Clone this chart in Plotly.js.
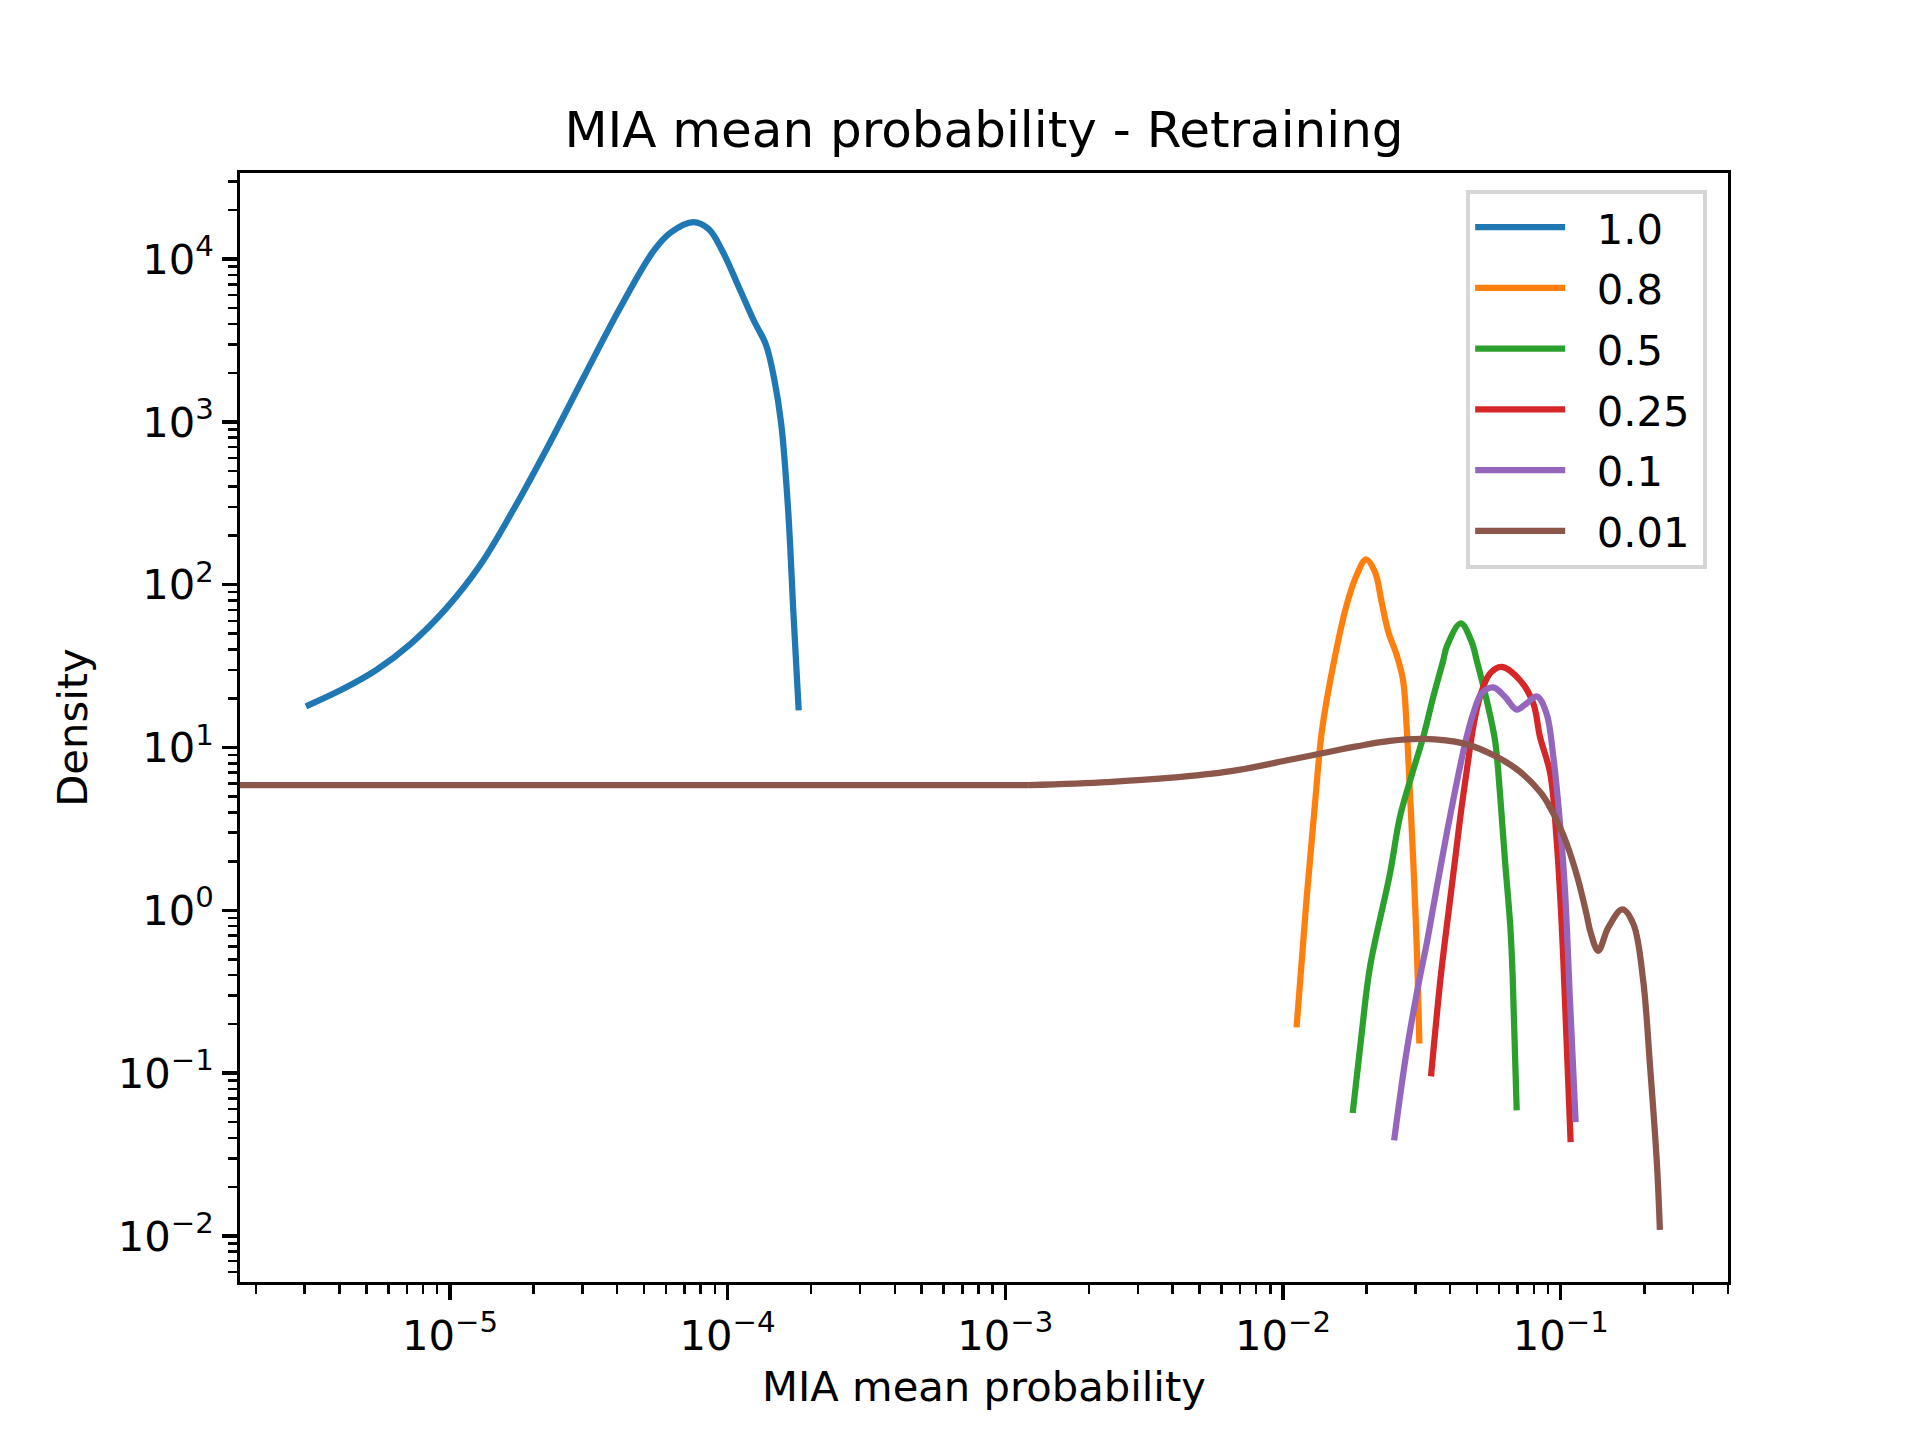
<!DOCTYPE html>
<html>
<head>
<meta charset="utf-8">
<script src="https://cdn.plot.ly/plotly-3.0.1.min.js"></script>
<style>
  html, body { margin: 0; padding: 0; background: #fff; }
  #chart { width: 1920px; height: 1440px; }
</style>
</head>
<body>
<div id="chart"></div>
<script>
    // KDE curves of MIA mean probability, one per retain ratio
    var labels = ['1.0', '0.8', '0.5', '0.25', '0.1', '0.01'];
    var colors = ['#1f77b4', '#ff7f0e', '#2ca02c', '#d62728', '#9467bd', '#8c564b'];

    var x_10 = [3.03e-6, 4.08e-6, 5.44e-6, 7.24e-6, 9.66e-6, 1.285e-5, 1.714e-5, 2.286e-5, 3.041e-5, 4.056e-5,
                5.396e-5, 6.238e-5, 7.517e-5, 8.552e-5, 9.595e-5, 1.107e-4, 1.242e-4, 1.374e-4, 1.472e-4,
                1.560e-4, 1.652e-4, 1.726e-4, 1.803e-4];
    var y_10 = [17.9, 22.7, 30.0, 43.5, 71.0, 132, 300, 740, 1900, 4853,
                11143, 14555, 16866, 15276, 11143, 6501, 4198, 2979, 1832,
                970, 287, 66.4, 16.9];

    var x_08 = [0.01119, 0.01217, 0.01303, 0.0138, 0.01517, 0.01694, 0.01841, 0.01991, 0.02144, 0.02265,
                0.02394, 0.02567, 0.02706, 0.02788, 0.02866, 0.02944, 0.03013, 0.03055, 0.03098];
    var y_08 = [0.191, 1.197, 4.46, 12.56, 32.1, 74.8, 114.3, 143.2, 119.7, 78.5,
                51.4, 37.0, 25.9, 13.4, 5.22, 2.03, 0.791, 0.39, 0.152];

    var x_05 = [0.01782, 0.0192, 0.02057, 0.02428, 0.02637, 0.02944, 0.032, 0.03477, 0.03778, 0.03886,
                0.04365, 0.04777, 0.04983, 0.05415, 0.05799, 0.06045, 0.063, 0.06587, 0.06716, 0.06943];
    var y_05 = [0.0569, 0.175, 0.449, 1.683, 3.75, 7.26, 11.64, 20.5, 34.4, 41.6,
                57.8, 44.7, 34.4, 19.5, 11.1, 5.22, 2.03, 0.791, 0.39, 0.059];

    var x_025 = [0.03412, 0.03697, 0.03886, 0.0405, 0.0422, 0.04398, 0.04609, 0.04843, 0.05121, 0.05563,
                 0.06131, 0.07136, 0.07965, 0.0842, 0.0917, 0.0967, 0.1008, 0.1036, 0.1086];
    var y_025 = [0.0955, 0.39, 0.791, 1.393, 2.455, 4.325, 7.61, 13.39, 20.5, 28.5,
                 31.3, 25.9, 18.7, 11.65, 6.93, 2.70, 0.83, 0.28, 0.0377];

    var x_01 = [0.02513, 0.02791, 0.03112, 0.03292, 0.03477, 0.03675, 0.03886, 0.04102, 0.04338, 0.04585,
                0.04843, 0.05193, 0.05719, 0.063, 0.06941, 0.0754, 0.0822, 0.08893, 0.09408, 0.09943,
                0.1036, 0.108, 0.1132];
    var y_01 = [0.0386, 0.138, 0.39, 0.625, 1.049, 1.765, 2.965, 4.75, 7.61, 11.63,
                16.2, 21.5, 23.4, 20.5, 17.1, 18.7, 20.6, 16.2, 8.77, 3.42,
                1.33, 0.28, 0.050];

    // first point sits left of the axis (clipped grid point in the original)
    var x_001 = [1e-6, 1.216e-3, 2.339e-3, 3.879e-3, 6.5e-3, 0.01059, 0.01396, 0.01841, 0.02427, 0.032,
                 0.04458, 0.05883, 0.07136, 0.0842, 0.08894, 0.1021, 0.1141, 0.1239, 0.1277, 0.1365,
                 0.1483, 0.1668, 0.1829, 0.1982, 0.2095, 0.2221, 0.2276];
    var y_001 = [5.88, 5.88, 6.14, 6.50, 7.16, 8.41, 9.25, 10.16, 10.99, 11.3,
                 10.6, 8.77, 7.10, 5.35, 4.68, 2.917, 1.663, 0.946, 0.748, 0.564,
                 0.783, 1.014, 0.820, 0.370, 0.114, 0.0278, 0.0109];

    var xs = [x_10, x_08, x_05, x_025, x_01, x_001];
    var ys = [y_10, y_08, y_05, y_025, y_01, y_001];

    var xTickVals = [1e-5, 1e-4, 1e-3, 1e-2, 1e-1];
    var xTickText = ['10<sup>−5</sup>', '10<sup>−4</sup>', '10<sup>−3</sup>', '10<sup>−2</sup>', '10<sup>−1</sup>'];
    var yTickVals = [1e-2, 1e-1, 1e0, 1e1, 1e2, 1e3, 1e4];
    var yTickText = ['10<sup>−2</sup>', '10<sup>−1</sup>', '10<sup>0</sup>', '10<sup>1</sup>',
                     '10<sup>2</sup>', '10<sup>3</sup>', '10<sup>4</sup>'];

    // minor ticks at 2..9 x 10^k
    function minorVals(lo, hi) {
        var out = [];
        for (var k = lo; k <= hi; k++) {
            for (var m = 2; m <= 9; m++) out.push(m * Math.pow(10, k));
        }
        return out;
    }

    var data = [];
    for (var i = 0; i < labels.length; i++) {
        var last = (i === labels.length - 1);
        if (last) {
            // flat straight run of the 0.01 curve from the left edge
            data.push({
                x: xs[i].slice(0, 2),
                y: ys[i].slice(0, 2),
                legendgroup: 'g' + i,
                showlegend: false,
                type: 'scatter',
                mode: 'lines',
                line: {color: colors[i], width: 6.25}
            });
        }
        data.push({
            x: last ? xs[i].slice(1) : xs[i],
            y: last ? ys[i].slice(1) : ys[i],
            // non-breaking spaces open the gap between legend line and label
            name: '\u00a0\u00a0' + labels[i] + '\u2009',
            legendgroup: 'g' + i,
            type: 'scatter',
            mode: 'lines',
            line: {color: colors[i], width: 6.25, shape: 'spline', smoothing: 1.0}
        });
    }

    var tickFont = {family: 'DejaVu Sans', size: 41.7, color: '#000'};

    var layout = {
        width: 1920,
        height: 1440,
        paper_bgcolor: '#fff',
        plot_bgcolor: '#fff',
        margin: {l: 240, r: 192, t: 173, b: 158},
        font: {family: 'DejaVu Sans', size: 41.7, color: '#000'},
        title: {
            text: 'MIA mean probability - Retraining',
            font: {family: 'DejaVu Sans', size: 50, color: '#000'},
            x: 0.5, xref: 'paper',
            y: 1, yref: 'paper', yanchor: 'bottom',
            pad: {b: 26}
        },
        showlegend: true,
        legend: {
            x: 0.986, y: 0.985, xanchor: 'right', yanchor: 'top',
            bgcolor: 'rgba(255,255,255,0.8)',
            bordercolor: '#d6d6d6',
            borderwidth: 4,
            font: {family: 'DejaVu Sans', size: 41.7, color: '#000'},
            itemwidth: 90,
            tracegroupgap: 3.5
        },
        xaxis: {
            type: 'log',
            range: [-5.756, -0.3975],
            showgrid: false,
            zeroline: false,
            showline: true, mirror: true,
            linecolor: '#000', linewidth: 3.3,
            ticks: 'outside', ticklen: 14.6, tickwidth: 3.3, tickcolor: '#000',
            tickmode: 'array', tickvals: xTickVals, ticktext: xTickText,
            tickfont: tickFont,
            minor: {tickmode: 'array', tickvals: minorVals(-6, -1), ticks: 'outside',
                    ticklen: 8.3, tickwidth: 2.5, tickcolor: '#000', showgrid: false},
            title: {text: 'MIA mean probability', font: {family: 'DejaVu Sans', size: 41.7, color: '#000'}, standoff: 14}
        },
        yaxis: {
            type: 'log',
            range: [-2.283, 4.529],
            showgrid: false,
            zeroline: false,
            showline: true, mirror: true,
            linecolor: '#000', linewidth: 3.3,
            ticks: 'outside', ticklen: 14.6, tickwidth: 3.3, tickcolor: '#000',
            tickmode: 'array', tickvals: yTickVals, ticktext: yTickText,
            tickfont: tickFont,
            minor: {tickmode: 'array', tickvals: minorVals(-3, 4), ticks: 'outside',
                    ticklen: 8.3, tickwidth: 2.5, tickcolor: '#000', showgrid: false},
            title: {text: 'Density', font: {family: 'DejaVu Sans', size: 41.7, color: '#000'}, standoff: 18}
        }
    };

    Plotly.newPlot('chart', data, layout, {staticPlot: true});
</script>
</body>
</html>
